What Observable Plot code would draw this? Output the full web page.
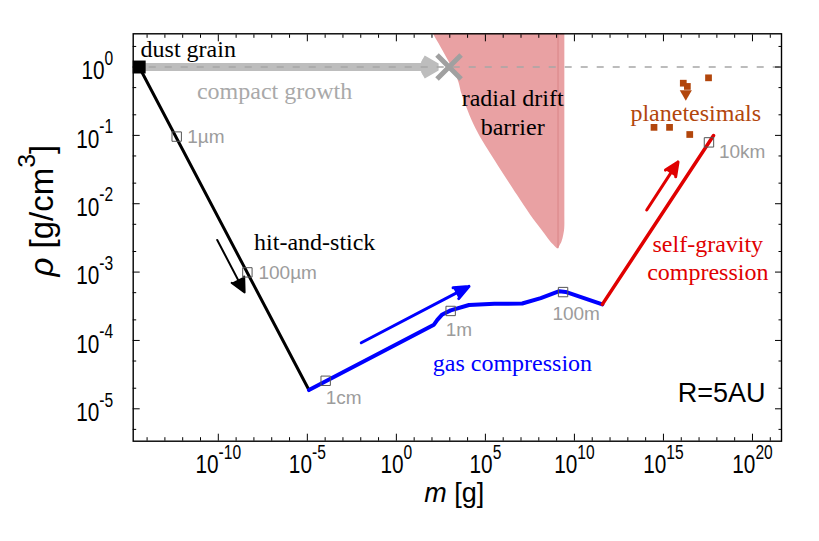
<!DOCTYPE html>
<html><head><meta charset="utf-8">
<script src="https://cdn.jsdelivr.net/npm/d3@7"></script>
<script src="https://cdn.jsdelivr.net/npm/@observablehq/plot@0.6"></script>
<style>html,body{margin:0;padding:0;background:#fff}#chart svg{display:block}</style>
</head><body><div id="chart"></div>
<script>
// ---- data (m in g, rho in g/cm^3) ----
const dustGrainM = [3.6e-15];
const dustGrainRho = [1];

const hitStickM = [3.6e-15, 1.23e-5];
const hitStickRho = [1, 1.88e-5];

const gasM = [1.23e-5, 129, 200, 380, 1120, 1.2e4, 3.2e5, 1.17e7, 1.29e8, 1.41e9, 3.2e9, 3.7e11];
const gasRho = [1.88e-5, 1.70e-4, 2.0e-4, 2.4e-4, 2.75e-4, 3.3e-4, 3.43e-4, 3.47e-4, 4.17e-4, 5.25e-4, 5.13e-4, 3.37e-4];

const selfGravM = [3.7e11, 6.5e17];
const selfGravRho = [3.37e-4, 0.0993];

const sizeNames = ["1µm", "100µm", "1cm", "1m", "100m", "10km"];
const sizeM = [4.6e-13, 4.3e-9, 1.07e-4, 1120, 2.3e9, 3.6e17];
const sizeRho = [0.096, 9.9e-4, 2.57e-5, 2.7e-4, 5.1e-4, 0.079];
const sizeLabelM = [1.8e-12, 1.8e-8, 1.07e-4, 590, 5.8e8, 1.3e18];
const sizeLabelRho = [0.096, 9.6e-4, 1.46e-5, 1.44e-4, 2.44e-4, 0.058];

const planetM = [3.4e17, 1.3e16, 2.2e16, 2.95e14, 2.2e15, 3.0e16];
const planetRho = [0.695, 0.58, 0.52, 0.131, 0.131, 0.103];
const upperLimitM = [1.8e16];
const upperLimitRho = [0.405];

const driftRho   = [3.2, 0.68, 0.386, 0.126, 0.041, 0.0133, 6.8e-3, 4.3e-3, 3.44e-3, 2.75e-3, 2.2e-3];
const driftLeft  = [107, 2.7e3, 5.1e3, 2.9e4, 3.8e5, 6.3e6, 3.5e7, 1.3e8, 2.5e8, 4.7e8, 1.1e9];
const driftRight = [2.9e9, 2.9e9, 2.9e9, 2.9e9, 2.9e9, 2.9e9, 2.9e9, 2.85e9, 2.5e9, 2.0e9, 1.26e9];
const driftEdgeM = [1.2e9];

const barrierX_M = [910];
const compactArrow = {m1: 3.6e-15, rho1: 1, m2: 182, rho2: 1};
const arrowNames = ["hit", "gas", "grav"];
const arrowM1 = [8.7e-11, 1.07e-2, 1.15e14];
const arrowRho1 = [2.95e-3, 9.25e-5, 8.1e-3];
const arrowM2 = [3.0e-9, 1.2e4, 6.6e15];
const arrowRho2 = [5.05e-4, 6.18e-4, 0.0409];

const annoText = ["dust grain", "compact growth", "radial drift\nbarrier", "hit-and-stick", "gas compression", "self-gravity\ncompression", "planetesimals"];
const annoM = [4.3e-15, 1.45e-7, 3.4e6, 2.6e-5, 3.3e6, 3.1e17, 6.5e16];
const annoRho = [1.93, 0.469, 0.223, 2.9e-3, 4.8e-5, 1.68e-3, 0.218];

const xTickExp = [-10, -5, 0, 5, 10, 15, 20];
const yTickExp = [0, -1, -2, -3, -4, -5];
const yTitle = "*ρ* [g/cm^{3}]";
const yTitleM = [1.41e-20];   // left of the frame
const yTitleRho = [7.9e-3];
const xTitle = "*m* [g]";

// ---- styles ----
const serif = "'Liberation Serif','Times New Roman',serif";
const sans = "'Liberation Sans',Arial,Helvetica,sans-serif";
const annoColor = ["#000", "#a9a9a9", "#000", "#000", "#0000ff", "#e00000", "#b2460c"];
const arrowColor = ["#000", "#0000ff", "#e00000"];
const arrowWidth = [2, 3, 3];
const arrowHead = [12, 8, 7.5];
const arrowAngle = [52, 45, 48];

const xDomain = [Math.pow(10, -14.78), Math.pow(10, 21.63)];
const yDomain = [Math.pow(10, -5.474), Math.pow(10, 0.486)];

const xMajor = xTickExp.map(e => Math.pow(10, e));
const xMinor = d3.range(-14, 22).filter(e => e % 5 !== 0).map(e => Math.pow(10, e));
const yMajor = yTickExp.map(e => Math.pow(10, e));
const yMinor = [];
for (let e = -6; e <= 0; e++) for (const k of [2, 5]) {
  const v = k * Math.pow(10, e);
  if (v > yDomain[0] && v < yDomain[1]) yMinor.push(v);
}
const pow = d => "10^" + Math.round(Math.log10(d));
const idx = a => d3.range(a.length);

const marks = [
  Plot.areaX(idx(driftRho), {y: i => driftRho[i], x1: i => driftLeft[i], x2: i => driftRight[i], fill: "#e9a1a3", curve: "catmull-rom", clip: true}),
  Plot.ruleX(driftEdgeM, {y1: driftRho[driftRho.length - 1], y2: driftRho[0], stroke: "#d98587", strokeWidth: 1, clip: true}),
  Plot.arrow([compactArrow], {x1: "m1", y1: "rho1", x2: "m2", y2: "rho2", stroke: "#bdbdbd", fill: "#bdbdbd", strokeWidth: 8, headLength: 3, headAngle: 60, strokeLinecap: "butt"}),
  Plot.ruleY([1], {stroke: "#a6a6a6", strokeWidth: 1.3, strokeDasharray: "7,9"}),
  Plot.dot(barrierX_M, {x: d => d, y: 1, symbol: "times", r: 11, stroke: "#a0a0a0", strokeWidth: 5}),
  Plot.line(idx(hitStickM), {x: i => hitStickM[i], y: i => hitStickRho[i], stroke: "#000", strokeWidth: 3}),
  Plot.line(idx(gasM), {x: i => gasM[i], y: i => gasRho[i], stroke: "#0000ff", strokeWidth: 4, strokeLinejoin: "round"}),
  Plot.line(idx(selfGravM), {x: i => selfGravM[i], y: i => selfGravRho[i], stroke: "#e00000", strokeWidth: 3.5}),
  ...arrowNames.map((n, i) => Plot.arrow([i], {x1: j => arrowM1[j], y1: j => arrowRho1[j], x2: j => arrowM2[j], y2: j => arrowRho2[j], stroke: arrowColor[i], fill: arrowColor[i], strokeWidth: arrowWidth[i], headLength: arrowHead[i], headAngle: arrowAngle[i]})),
  Plot.dot(idx(sizeM), {x: i => sizeM[i], y: i => sizeRho[i], symbol: "square", r: 5.3, stroke: "#555", strokeWidth: 1, fill: "none"}),
  Plot.text(idx(sizeNames), {x: i => sizeLabelM[i], y: i => sizeLabelRho[i], text: i => sizeNames[i], textAnchor: "start", fill: "#9c9c9c", fontSize: 19, fontFamily: sans}),
  Plot.dot(idx(dustGrainM), {x: i => dustGrainM[i], y: i => dustGrainRho[i], symbol: "square", r: 7.3, fill: "#000"}),
  Plot.dot(idx(planetM), {x: i => planetM[i], y: i => planetRho[i], symbol: "square", r: 3.8, fill: "#b2460c"}),
  Plot.dot(idx(upperLimitM), {x: i => upperLimitM[i], y: i => upperLimitRho[i], symbol: "triangle", rotate: 180, r: 4.5, fill: "#b2460c"}),
  ...annoText.map((t, i) => Plot.text([i], {x: j => annoM[j], y: j => annoRho[j], text: j => annoText[j], fill: annoColor[i], textAnchor: i === 0 ? "start" : "middle", lineHeight: 1.2, fontSize: 24, fontFamily: serif})),
  Plot.text(["R=5AU"], {frameAnchor: "bottom-right", dx: -16, dy: -39, textAnchor: "end", fontSize: 27, fontFamily: sans, fill: "#000"}),
  Plot.frame({stroke: "#000", strokeWidth: 1.4}),
  // axes
  Plot.axisX(xMajor, {anchor: "bottom", tickSize: 0, tickPadding: 13.5, tickFormat: pow, fontSize: 26, fontFamily: sans, label: null}),
  Plot.axisX(xMajor, {anchor: "bottom", tickSize: -7, fill: "none", label: null}),
  Plot.axisX(xMinor, {anchor: "bottom", tickSize: -3.5, fill: "none", label: null}),
  Plot.axisX(xMajor, {anchor: "top", tickSize: -7, fill: "none", label: null}),
  Plot.axisX(xMinor, {anchor: "top", tickSize: -3.5, fill: "none", label: null}),
  Plot.axisY(yMajor, {anchor: "left", tickSize: 0, tickPadding: 20, dy: 4, tickFormat: pow, fontSize: 26, fontFamily: sans, label: null}),
  Plot.axisY(yMajor, {anchor: "left", tickSize: -7, fill: "none", label: null}),
  Plot.axisY(yMinor, {anchor: "left", tickSize: -3.5, fill: "none", label: null}),
  Plot.axisY(yMajor, {anchor: "right", tickSize: -7, fill: "none", label: null}),
  Plot.axisY(yMinor, {anchor: "right", tickSize: -3.5, fill: "none", label: null}),
  Plot.text([xTitle], {frameAnchor: "bottom", dx: -3, dy: 61, fontSize: 27, fontFamily: sans, fill: "#000"}),
  Plot.text([0], {x: yTitleM[0], y: yTitleRho[0], text: () => yTitle, rotate: -90, fontSize: 33, fontFamily: sans, fill: "#000"})
];

const chart = Plot.plot({
  width: 819, height: 541,
  marginLeft: 132.7, marginRight: 38, marginTop: 33.3, marginBottom: 100.3,
  x: {type: "log", domain: xDomain, label: null},
  y: {type: "log", domain: yDomain, label: null},
  style: {background: "#fff", color: "#000", overflow: "visible"},
  marks
});

// rich text: ^{..} / ^n superscript, *..* italic
const NS = "http://www.w3.org/2000/svg";
function rich(el) {
  const s = el.textContent;
  if (!/\^|\*/.test(s) || el.querySelector("tspan")) return;
  const parts = s.split(/(\^\{[^}]*\}|\^-?\d+|\*[^*]+\*)/).filter(p => p !== "");
  while (el.firstChild) el.removeChild(el.firstChild);
  let raised = false;
  for (const p of parts) {
    const t = document.createElementNS(NS, "tspan");
    if (p.startsWith("^")) {
      t.textContent = p.startsWith("^{") ? p.slice(2, -1) : p.slice(1);
      t.setAttribute("font-size", "75%");
      t.setAttribute("dy", "-0.75em");
      raised = true;
    } else {
      if (p.startsWith("*")) { t.textContent = p.slice(1, -1); t.setAttribute("font-style", "italic"); }
      else t.textContent = p;
      if (raised) { t.setAttribute("dy", "0.5625em"); raised = false; }
    }
    el.appendChild(t);
  }
}
d3.select(chart).selectAll("text").each(function () { rich(this); });
// condensed look of the axis tick labels
d3.select(chart).selectAll('g[aria-label$="tick label"] text').each(function () {
  const tr = this.getAttribute("transform") || "";
  this.setAttribute("transform", tr + " scale(0.8,1)");
});
document.getElementById("chart").appendChild(chart);
</script>
</body></html>
